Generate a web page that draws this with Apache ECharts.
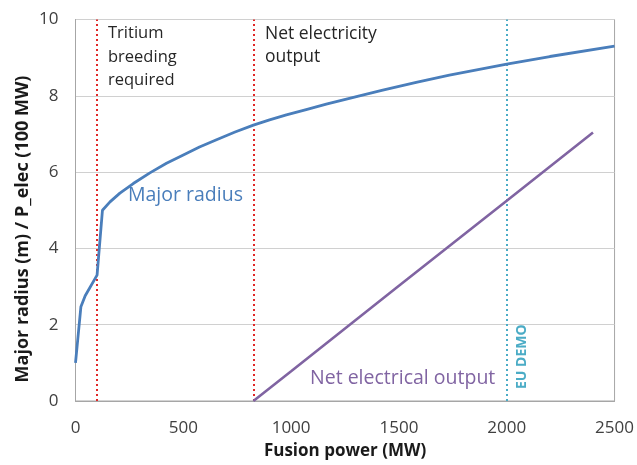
<!DOCTYPE html>
<html><head><meta charset="utf-8">
<script src="https://cdn.jsdelivr.net/npm/echarts@6/dist/echarts.min.js"></script>
<style>html,body{margin:0;padding:0;background:#fff}#c{width:637px;height:465px}</style>
</head><body><div id="c"></div>
<script>
// Data
var radiusPower = [0, 25, 45, 100, 125, 160, 206, 268, 345, 422, 500, 575, 654, 740, 825, 900, 978, 1070, 1163, 1317, 1425, 1580, 1734, 2000, 2200, 2500];
var radiusValues = [1.0, 2.47, 2.76, 3.3, 5.0, 5.22, 5.45, 5.7, 5.98, 6.23, 6.45, 6.66, 6.85, 7.05, 7.23, 7.37, 7.5, 7.64, 7.78, 8.0, 8.15, 8.35, 8.54, 8.83, 9.03, 9.3];
var elecPower = [825, 1000, 1500, 2000, 2400];
var elecValues = [0, 0.78, 3.02, 5.25, 7.04];
var markerLines = [100, 825];   // red dotted
var demoLine = [2000];          // cyan dotted
var xTicks = [0, 500, 1000, 1500, 2000, 2500];
var yTicks = [0, 2, 4, 6, 8, 10];
var yTitle = 'Major radius (m) / P_elec (100 MW)';
var xTitle = 'Fusion power (MW)';

var FONT = '"Open Sans", sans-serif';
function pairs(xs, ys){ return xs.map(function(x,i){return [x, ys[i]];}); }

var chart = echarts.init(document.getElementById('c'), null, {renderer:'canvas'});
chart.setOption({
  animation:false,
  backgroundColor:'#fff',
  textStyle:{fontFamily:FONT},
  grid:{left:75.5, right:21.5, top:19.5, bottom:63.3, show:true, borderColor:'#a6a6a6', borderWidth:1},
  xAxis:{type:'value', min:xTicks[0], max:xTicks[xTicks.length-1], interval:500,
    name:xTitle, nameLocation:'middle', nameGap:42,
    nameTextStyle:{fontFamily:FONT, fontWeight:'bold', fontSize:17, color:'#1a1a1a'},
    axisLine:{show:true, lineStyle:{color:'#a6a6a6'}}, axisTick:{show:false},
    splitLine:{show:false},
    axisLabel:{fontFamily:FONT, fontSize:17, color:'#404040', margin:19, formatter:function(v){return String(v);}}},
  yAxis:{type:'value', min:yTicks[0], max:yTicks[yTicks.length-1], interval:2,
    axisLine:{show:true, lineStyle:{color:'#a6a6a6'}}, axisTick:{show:false},
    splitLine:{show:true, lineStyle:{color:'#d0d0d0', width:1}},
    axisLabel:{fontFamily:FONT, fontSize:17, color:'#404040', margin:17, formatter:function(v){return String(v);}}},
  series:[
    {type:'line', name:'Major radius', data:pairs(radiusPower, radiusValues), showSymbol:false, smooth:false,
      lineStyle:{color:'#4a7ebb', width:2.8}, z:5,
      markLine:{silent:true, symbol:['none','none'], label:{show:false},
        lineStyle:{color:'#e02828', type:[2,3], width:2},
        data:markerLines.map(function(v){return {xAxis:v};})}},
    {type:'line', name:'Net electrical output', data:pairs(elecPower, elecValues), showSymbol:false,
      lineStyle:{color:'#8064a2', width:2.6}, z:5,
      markLine:{silent:true, symbol:['none','none'], label:{show:false},
        lineStyle:{color:'#4bacc6', type:[2,3], width:2},
        data:demoLine.map(function(v){return {xAxis:v};})}}
  ],
  graphic:[
    {type:'text', x:23, y:229, rotation:Math.PI/2, style:{text:yTitle, font:'bold 18px '+FONT, fill:'#1a1a1a', textAlign:'center', textVerticalAlign:'middle'}},
    {type:'text', left:108, top:22, style:{text:'Tritium\nbreeding\nrequired', font:'16.5px '+FONT, fill:'#262626', lineHeight:23.5}},
    {type:'text', left:265, top:22, style:{text:'Net electricity\noutput', font:'17.5px '+FONT, fill:'#262626', lineHeight:23.5}},
    {type:'text', left:128, top:185, style:{text:'Major radius', font:'19.5px '+FONT, fill:'#4a7ebb'}},
    {type:'text', left:310, top:368, style:{text:'Net electrical output', font:'19.5px '+FONT, fill:'#8064a2'}},
    {type:'text', x:515, y:389, rotation:Math.PI/2, style:{text:'EU DEMO', font:'bold 14px '+FONT, fill:'#4bacc6', textAlign:'left', textVerticalAlign:'top'}}
  ]
});
</script></body></html>
